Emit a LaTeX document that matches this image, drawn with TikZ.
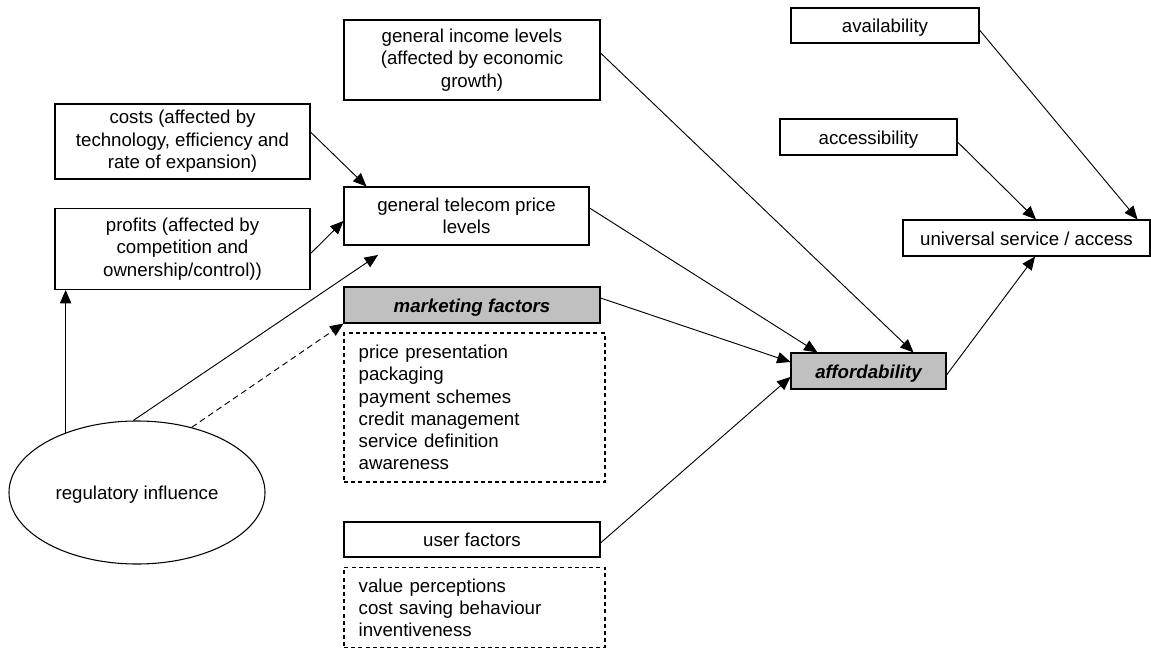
\documentclass[tikz,border=0pt]{standalone}
\usepackage{fontspec}
\setmainfont{Liberation Sans}
\usepackage{tikz}
\usetikzlibrary{arrows.meta,shapes.geometric}
\definecolor{boxgray}{RGB}{192,192,192}

\begin{document}
\begin{tikzpicture}[x=0.75pt,y=-0.75pt,
  box/.style={draw,line width=0.8pt,inner sep=0pt,align=center,font=\fontsize{14}{16.8}\selectfont},
  keybox/.style={box,fill=boxgray,font=\fontsize{14}{16.8}\selectfont\bfseries\itshape},
  oneline/.style={text height=12pt,text depth=1pt},
  listbox/.style={draw,line width=0.8pt,dash pattern=on 3pt off 2.4pt,inner xsep=11pt,inner ysep=0pt,
    text width=173.75pt,align=left,font=\fontsize{14}{16.6}\selectfont},
  link/.style={line width=0.7pt,-{Triangle[length=10pt,width=8.5pt]}}]
\useasboundingbox (0,0) rectangle (1151,648);
\tikzstyle{every node}+=[inner sep=0pt]
\node [box,minimum width=191.25pt,minimum height=56.25pt] (costs) at (182.5,141.5) {costs (affected by\\technology, efficiency and\\rate of expansion)};
\node [box,minimum width=191.25pt,minimum height=60.75pt] (profits) at (182.5,249) {profits (affected by\\competition and\\ownership/control))};
\node [box,minimum width=192pt,minimum height=60pt] (income) at (472,60) {general income levels\\(affected by economic\\growth)};
\node [box,minimum width=183.75pt,minimum height=43.5pt] (telecom) at (466.5,216) {general telecom price\\levels};
\node [keybox,oneline,minimum width=192pt,minimum height=27pt] (marketing) at (472,305) {marketing factors};
\node [listbox,minimum height=111.75pt] (mktlist) at (474.5,407.5) {price presentation\\packaging\\payment schemes\\credit management\\service definition\\awareness};
\node [box,oneline,minimum width=192pt,minimum height=26.25pt] (user) at (472,539.5) {user factors};
\node [listbox,minimum height=60pt] (userlist) at (474.5,607.5) {value perceptions\\cost saving behaviour\\inventiveness};
\node [keybox,oneline,minimum width=116.25pt,minimum height=27pt] (afford) at (868.5,371) {affordability};
\node [box,oneline,minimum width=141pt,minimum height=26.25pt] (avail) at (885,25.5) {availability};
\node [box,oneline,minimum width=132.75pt,minimum height=27pt] (access) at (868.5,137) {accessibility};
\node [box,oneline,minimum width=185.25pt,minimum height=27pt] (univ) at (1026.5,238) {universal service / access};
\node [box,oneline,ellipse,minimum width=192pt,minimum height=107.25pt] (reg) at (137,492.5) {regulatory influence};
\coordinate (regtip) at (378,255);
% into price levels
\draw [link] ([yshift=7.1pt]costs.east) -- ([xshift=17.25pt]telecom.north west);
\draw [link] ([yshift=-3.4pt]profits.east) -- ([yshift=-3.75pt]telecom.west);
% regulatory influence
\draw [link] (reg.140) -- (reg.140 |- profits.south);
\draw [link] (reg.93) -- (regtip);
\draw [link,dash pattern=on 4.5pt off 3pt] (reg.50) -- (marketing.south west);
% into affordability
\draw [link] ([yshift=5.25pt]marketing.east) -- ([yshift=6.75pt]afford.west);
\draw [link] ([yshift=6pt]telecom.east) -- ([xshift=20.25pt]afford.north west);
\draw [link] ([yshift=5.25pt]income.east) -- ([xshift=-24.75pt]afford.north east);
\draw [link] ([yshift=-2.6pt]user.east) -- ([yshift=-4.5pt]afford.west);
% into universal service
\draw [link] ([yshift=-3pt]afford.east) -- ([xshift=6.4pt]univ.south);
\draw [link] ([yshift=-3.75pt]access.east) -- ([xshift=7.1pt]univ.north);
\draw [link] ([yshift=-3.4pt]avail.east) -- ([xshift=-9.75pt]univ.north east);
\end{tikzpicture}
\end{document}
